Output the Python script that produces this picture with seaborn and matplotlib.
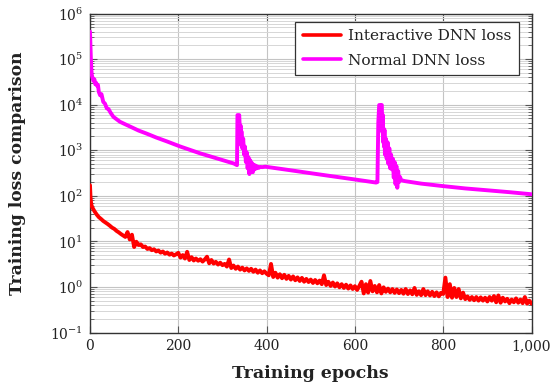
import matplotlib
matplotlib.use("Agg")
import matplotlib.pyplot as plt
import matplotlib.ticker as mticker
import seaborn as sns
import pandas as pd

# ---------------- data ----------------
interactive_epochs = [0, 1, 2, 3] + list(range(5, 1001, 5))
interactive_loss = [
    170, 100, 75, 64,
    56, 46, 39, 34, 31, 28, 26, 24, 22, 20,              # 5-50
    18.8, 17, 15.8, 14.5, 13.5, 12.5, 16, 11, 14, 7.5,    # 55-100
    9.8, 8.3, 8.6, 7.5, 7.7, 6.8, 7.1, 6.4, 6.7, 6.0,     # 105-150
    6.3, 5.65, 6.0, 5.35, 5.7, 5.1, 5.4, 4.9, 5.2, 5.6,   # 155-200
    4.4, 5.0, 4.2, 5.9, 3.9, 4.5, 3.8, 4.2, 3.75, 4.05,   # 205-250
    3.6, 4.0, 4.6, 3.3, 3.9, 3.25, 3.55, 3.1, 3.4, 3.0,   # 255-300
    3.2, 2.8, 4.0, 2.6, 2.95, 2.5, 2.8, 2.4, 2.65, 2.3,   # 305-350
    2.55, 2.25, 2.5, 2.15, 2.4, 2.05, 2.3, 2.0, 2.2, 1.95,  # 355-400
    1.8, 3.2, 1.65, 2.05, 1.6, 1.9, 1.55, 1.85, 1.5, 1.75,  # 405-450
    1.45, 1.7, 1.4, 1.62, 1.35, 1.58, 1.3, 1.5, 1.28, 1.45,  # 455-500
    1.22, 1.42, 1.2, 1.38, 1.15, 1.8, 1.1, 1.3, 1.05, 1.25,  # 505-550
    1.02, 1.2, 0.98, 1.15, 0.95, 1.12, 0.92, 1.08, 0.9, 1.04,  # 555-600
    0.86, 1.05, 1.3, 0.72, 1.15, 0.75, 1.35, 0.8, 1.05, 0.76,  # 605-650
    1.1, 0.72, 0.98, 0.78, 0.92, 0.76, 0.9, 0.74, 0.88, 0.73,  # 655-700
    0.86, 0.71, 0.9, 0.7, 0.84, 0.69, 0.95, 0.67, 0.8, 0.66,  # 705-750
    0.9, 0.66, 0.8, 0.65, 0.78, 0.63, 0.76, 0.62, 0.74, 0.7,  # 755-800
    1.6, 0.6, 1.15, 0.58, 0.95, 0.6, 0.9, 0.56, 0.75, 0.54,  # 805-850
    0.62, 0.52, 0.6, 0.51, 0.6, 0.5, 0.59, 0.5, 0.58, 0.48,  # 855-900
    0.6, 0.5, 0.63, 0.46, 0.65, 0.45, 0.58, 0.48, 0.55, 0.44,  # 905-950
    0.53, 0.46, 0.56, 0.45, 0.53, 0.44, 0.6, 0.43, 0.5, 0.43,  # 955-1000
]

normal_epochs = [
    0, 1, 2, 3, 4, 6, 8, 10, 12, 14, 16, 18, 20, 23, 26, 30, 34, 38, 42, 46, 53,
    60, 68, 80, 91, 110, 129, 150, 175, 205, 250, 290, 326, 333,
    334, 336, 338, 340, 341, 342, 343, 345, 347, 349, 351, 353, 355, 357, 359,
    361, 363, 365, 367, 369, 371, 373, 375, 377, 379, 382, 386, 390, 397,
    450, 500, 550, 600, 648, 651,
    653, 655, 657, 659, 661, 662, 663, 664, 665, 666, 667, 668, 670, 672, 674,
    676, 678, 680, 682, 684, 686, 688, 690, 692, 694, 696, 698, 700, 702, 705,
    713, 750, 800, 850, 900, 950, 1000,
]
normal_loss = [
    400000, 200000, 100000, 60000, 45000, 38000, 33000, 36000, 28000, 30000, 26000, 27000, 19000, 16000, 17000, 11500, 10500, 8300, 8000, 6800, 5400,
    4800, 4200, 3700, 3300, 2700, 2300, 1900, 1550, 1200, 850, 650, 510, 470,
    5900, 5900, 5900, 2000, 3500, 1300, 2600, 1100, 1800, 800, 1200, 550, 900, 400, 700,
    300, 600, 350, 520, 330, 480, 380, 460, 400, 440, 410, 430, 425, 435,
    368, 313, 267, 228, 195, 200,
    4000, 9800, 9800, 9500, 9800, 2500, 6000, 1500, 3000, 1200, 2800, 800, 1800, 650, 1500,
    500, 1100, 400, 800, 380, 650, 250, 550, 180, 450, 150, 350, 200, 260, 220,
    210, 185, 163, 145, 132, 120, 108,
]

series_names = ["Interactive DNN loss", "Normal DNN loss"]
series_colors = ["#ff0000", "#ff00ff"]
x_ticks = [0, 200, 400, 600, 800, 1000]
x_label = "Training epochs"
y_label = "Training loss comparison"

df = pd.concat([
    pd.DataFrame({"epoch": interactive_epochs, "loss": interactive_loss, "series": series_names[0]}),
    pd.DataFrame({"epoch": normal_epochs, "loss": normal_loss, "series": series_names[1]}),
], ignore_index=True)

# ---------------- style ----------------
sns.set_theme(style="white")
plt.rcParams["font.family"] = ["DejaVu Serif"]
plt.rcParams["mathtext.fontset"] = "dejavuserif"
plt.rcParams["axes.unicode_minus"] = False
plt.rcParams["axes.formatter.use_mathtext"] = True

fig = plt.figure(figsize=(5.55, 3.89), dpi=100)
ax = fig.add_axes([90 / 555, 1 - 332.5 / 389, 441.5 / 555, 319 / 389])

sns.lineplot(data=df, x="epoch", y="loss", hue="series", hue_order=series_names,
             palette=series_colors, linewidth=2.8, ax=ax, estimator=None,
             sort=False, legend=True, zorder=3)

ax.set_yscale("log")
ax.set_xlim(0, 1000)
ax.set_ylim(1e-1, 1e6)

ax.set_xticks(x_ticks)
ax.xaxis.set_major_formatter(mticker.FuncFormatter(lambda v, p: f"{int(v):,}"))
ax.yaxis.set_major_locator(mticker.LogLocator(base=10, numticks=20))
ax.yaxis.set_minor_locator(mticker.LogLocator(base=10, subs=range(2, 10), numticks=20))
ax.yaxis.set_minor_formatter(mticker.NullFormatter())

ax.grid(which="major", axis="both", color="#c4c4c4", linewidth=0.8, zorder=0)
ax.grid(which="minor", axis="y", color="#d6d6d6", linewidth=0.7, zorder=0)
ax.set_axisbelow(True)

ax.tick_params(which="both", direction="in", top=True, right=True, left=True, bottom=True,
               labelsize=10, color="#555555", labelcolor="#222222")
ax.tick_params(which="major", length=5, width=0.8, pad=5)
ax.tick_params(which="minor", length=3, width=0.6)
for s in ax.spines.values():
    s.set_color("#333333")
    s.set_linewidth(1.0)

ax.set_xlabel(x_label, family="DejaVu Serif", weight="bold", size=12.5, color="#222222", labelpad=8)
ax.set_ylabel(y_label, family="DejaVu Serif", weight="bold", size=12.3, color="#222222")
ax.yaxis.set_label_coords((26 - 90) / 441.5, 0.5)

leg = ax.legend(loc="upper right", frameon=True, fancybox=False, fontsize=11.1,
                edgecolor="#333333", borderpad=0.5, handlelength=2.45, handletextpad=0.5,
                labelspacing=0.66, borderaxespad=0,
                bbox_to_anchor=((519.3 - 90) / 441.5, 1 - (21.7 - 13.5) / 319), framealpha=1)
leg.get_frame().set_linewidth(0.9)
for ln in leg.get_lines():
    ln.set_linewidth(2.6)
for t in leg.get_texts():
    t.set_color("#222222")

fig.savefig("out.png", dpi=100)
